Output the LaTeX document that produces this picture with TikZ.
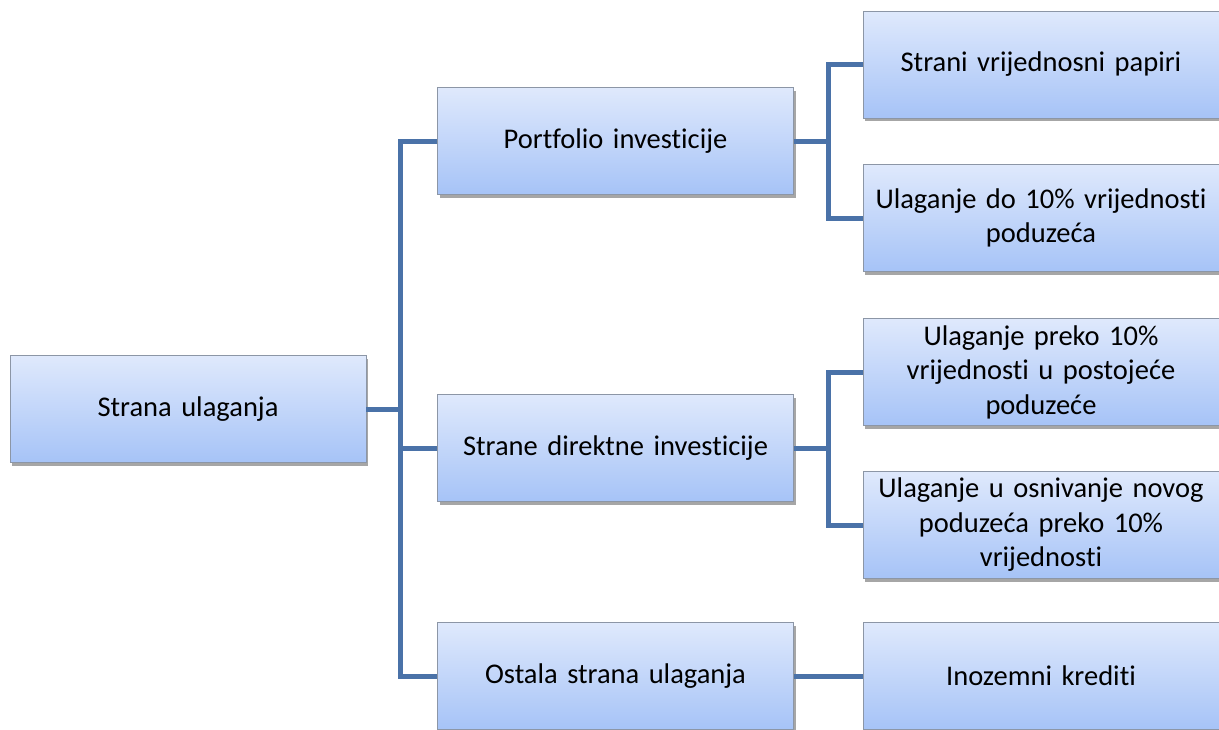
\documentclass[tikz,border=0pt]{standalone}
\usepackage{fontspec}
\setmainfont{Carlito}[Ligatures={NoCommon,NoRare,NoDiscretionary}]
\usetikzlibrary{shadows}
\definecolor{boxtop}{HTML}{DFE9FC}
\definecolor{boxbot}{HTML}{A6C3F7}
\definecolor{boxline}{HTML}{8C96A6}
\definecolor{conn}{HTML}{4A72A8}
\begin{document}
\begin{tikzpicture}[x=1pt,y=-1pt,
  box/.style={draw=boxline, line width=0.8pt, top color=boxtop, bottom color=boxbot,
    minimum width=356pt, minimum height=107pt, text width=350pt, align=center,
    inner sep=0pt, font=\fontsize{28.5}{34.5}\selectfont,
    drop shadow={shadow xshift=2pt, shadow yshift=-3pt, opacity=0.35, fill=black}},
  conline/.style={draw=conn, line width=5pt}]
\useasboundingbox (0,0) rectangle (1219,729);
\clip (0,0) rectangle (1219,729);
\node[box] (root) at (188,409) {Strana ulaganja};
\node[box] (port) at (615.5,141) {Portfolio investicije};
\node[box] (dir) at (615.5,448) {Strane direktne investicije};
\node[box] (ost) at (615.5,676) {Ostala strana ulaganja};
\node[box] (r1) at (1041,64.5) {Strani vrijednosni papiri};
\node[box] (r2) at (1041,218) {Ulaganje do 10\% vrijednosti\\poduzeća};
\node[box] (r3) at (1041,372) {Ulaganje preko 10\%\\vrijednosti u postojeće\\poduzeće};
\node[box] (r4) at (1041,525) {Ulaganje u osnivanje novog\\poduzeća preko 10\%\\vrijednosti};
\node[box] (r5) at (1041,676) {Inozemni krediti};
\coordinate (t0) at (400,408);
\coordinate (t1) at (828,140.5);
\coordinate (t2) at (828,447);
\draw[conline] (root.east) -- (root.east -| t0);
\draw[conline] (port.west) -| (t0) |- (ost.west);
\draw[conline] (dir.west) -- (dir.west -| t0);
\draw[conline] (port.east) -- (port.east -| t1);
\draw[conline] (r1.west) -| (t1) |- (r2.west);
\draw[conline] (dir.east) -- (dir.east -| t2);
\draw[conline] (r3.west) -| (t2) |- (r4.west);
\draw[conline] (ost.east) -- (r5.west);
\end{tikzpicture}
\end{document}
